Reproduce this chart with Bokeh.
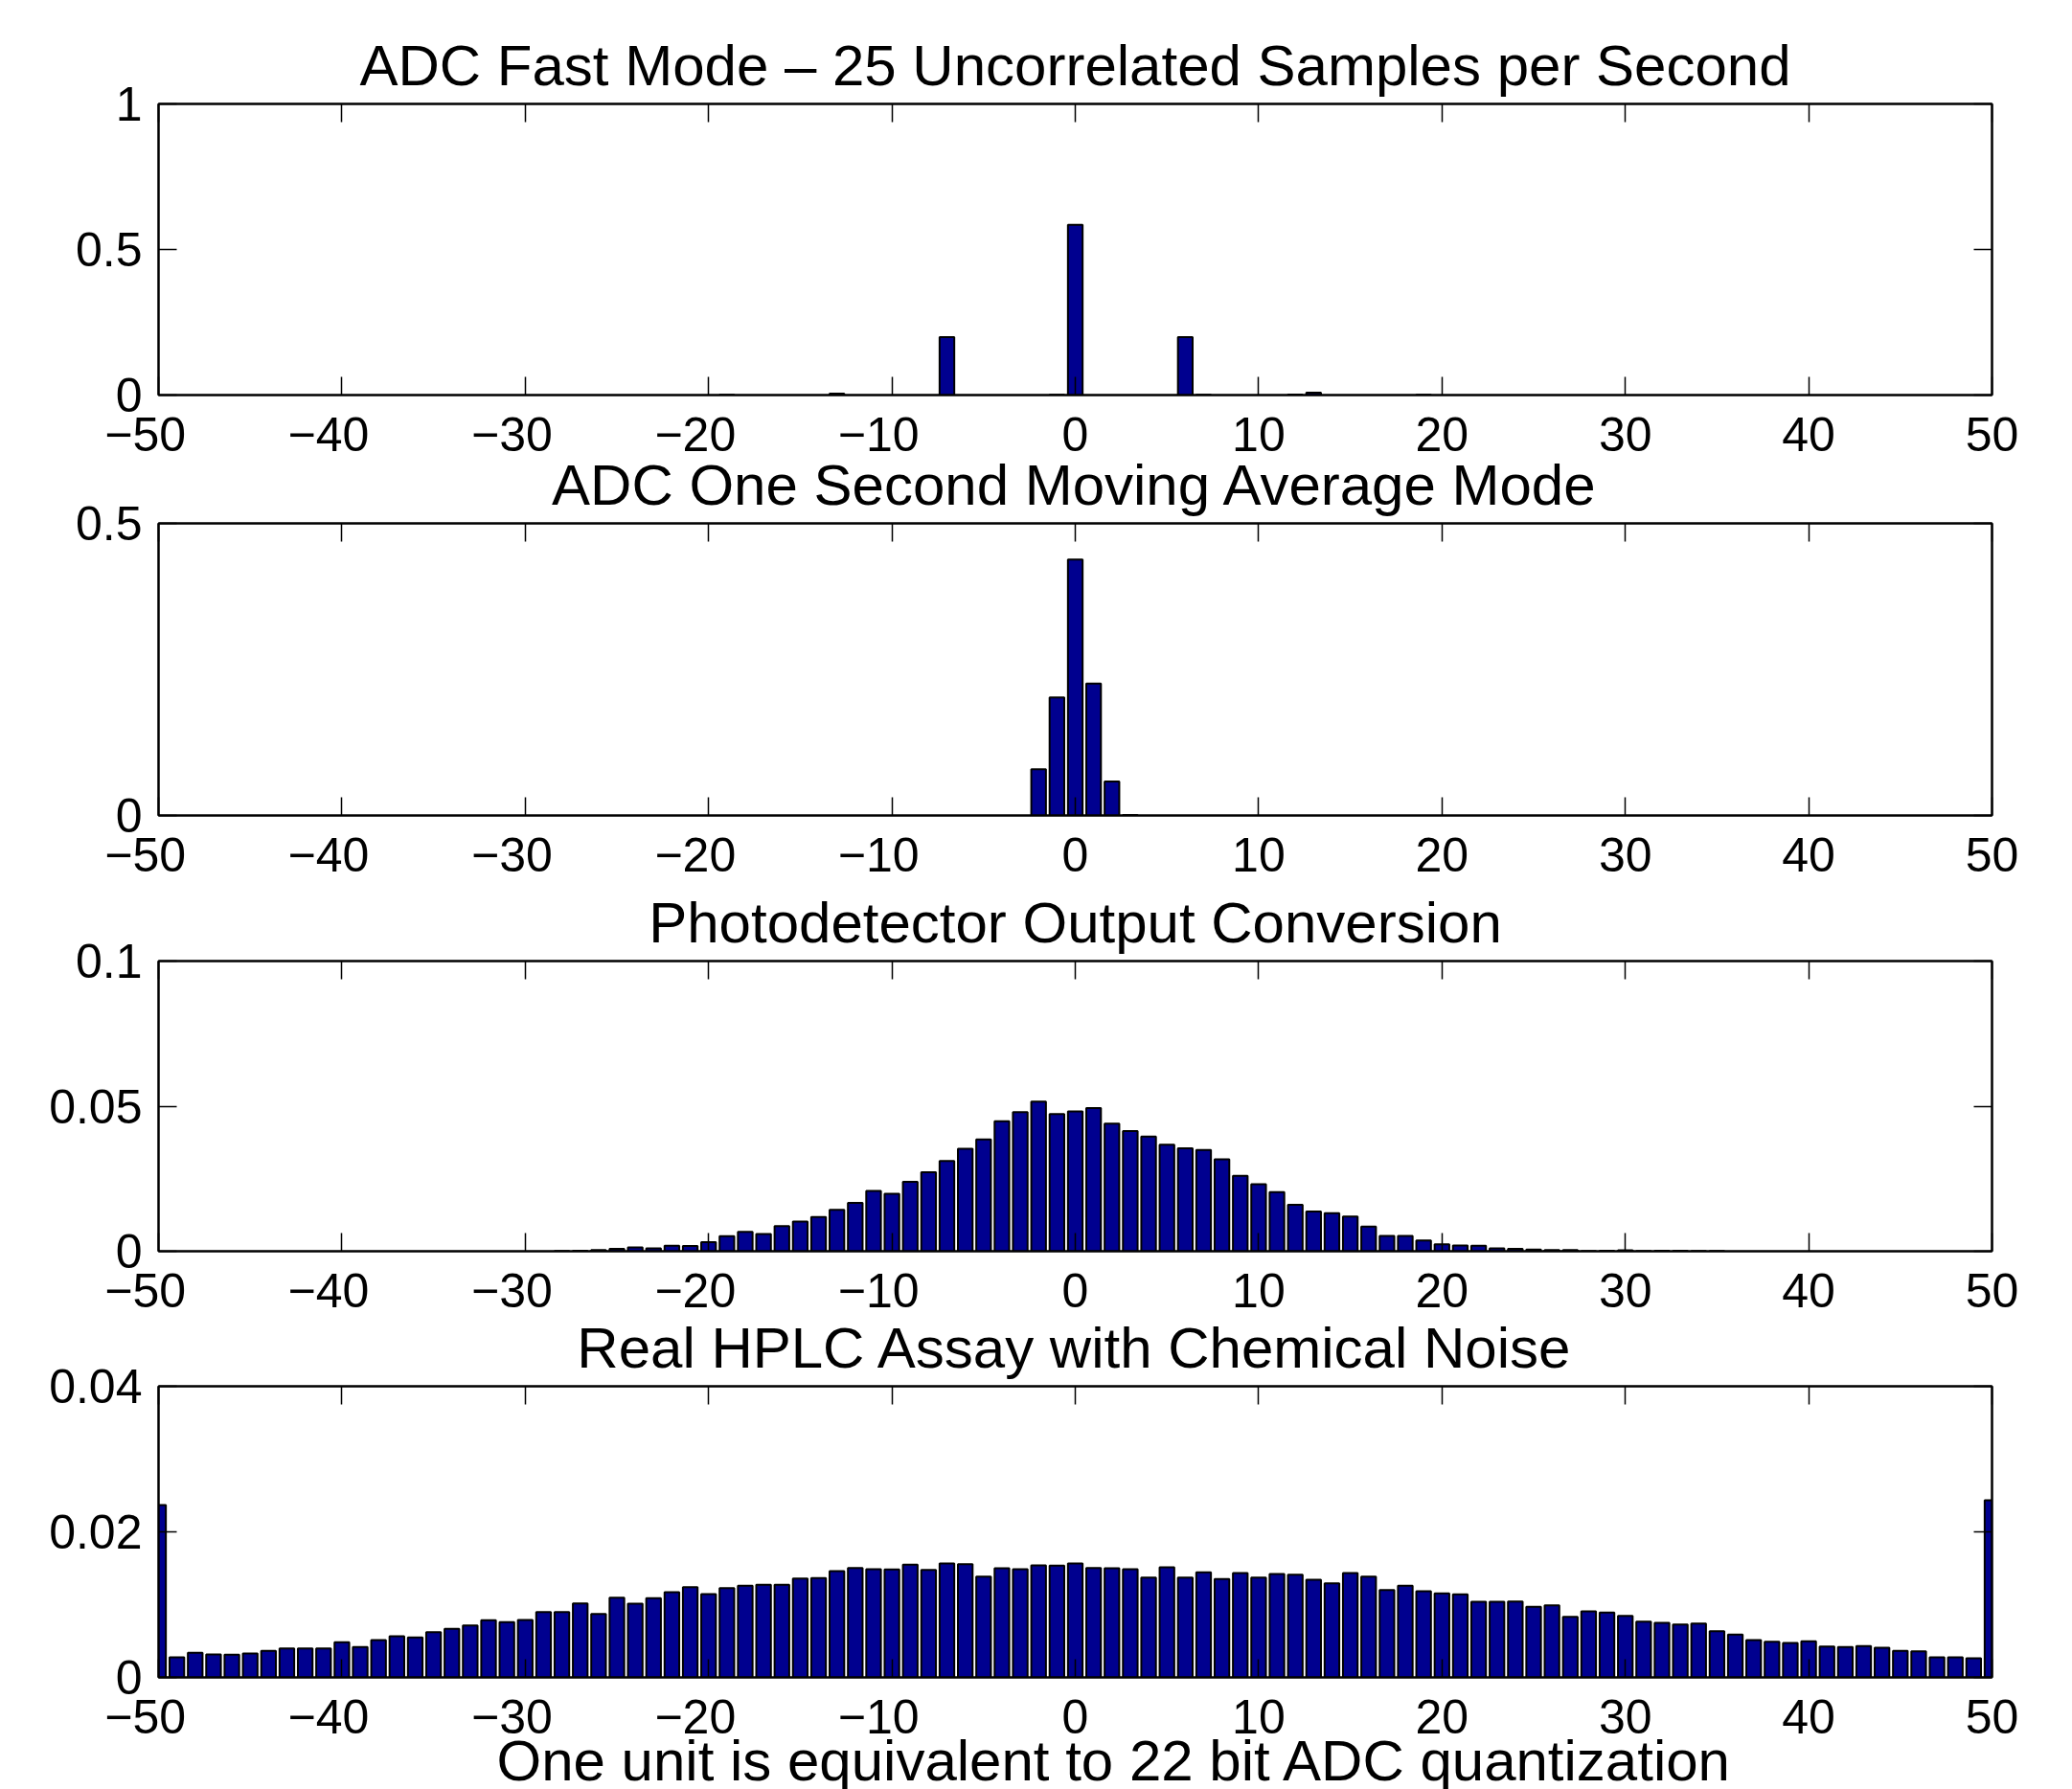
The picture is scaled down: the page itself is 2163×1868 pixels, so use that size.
from bokeh.plotting import figure
from bokeh.models import Range1d, FixedTicker, LinearAxis, Title
from bokeh.layouts import column
from bokeh.embed import file_html
from bokeh.resources import INLINE

# ---------------- data ----------------
x_ticks = [-50, -40, -30, -20, -10, 0, 10, 20, 30, 40, 50]
# negative labels: the number is centred on the tick, the minus hangs to the left
# (two trailing no-break spaces balance the width of the minus sign)
NB = "\u00a0\u00a0"
x_tick_labels = ["\u221250" + NB, "\u221240" + NB, "\u221230" + NB, "\u221220" + NB,
                 "\u221210" + NB, "0", "10", "20", "30", "40", "50"]

titles = [
    "ADC Fast Mode \u2013 25 Uncorrelated Samples per Second",
    "ADC One Second Moving Average Mode",
    "Photodetector Output Conversion",
    "Real HPLC Assay with Chemical Noise",
]
x_label = "One unit is equivalent to 22 bit ADC quantization"

# panel 1: ADC fast mode
fast_x = [-19, -13, -7, -1, 0, 6, 7, 12, 13, 19]
fast_y = [0.0005, 0.005, 0.199, 0.001, 0.585, 0.199, 0.001, 0.002, 0.008, 0.0005]
fast_yticks = [0, 0.5, 1]
fast_ylabels = ["0", "0.5", "1"]

# panel 2: moving average mode
avg_x = [-2, -1, 0, 1, 2, 3]
avg_y = [0.079, 0.202, 0.438, 0.226, 0.058, 0.001]
avg_yticks = [0, 0.5]
avg_ylabels = ["0", "0.5"]

# panel 3: photodetector output conversion (bins -28 .. 35)
photo_x = list(range(-28, 36))
photo_y = [0.0001, 0.0002, 0.0004, 0.0008, 0.0013, 0.0010, 0.0019, 0.0018,
           0.0031, 0.0052, 0.0067, 0.0059, 0.0087, 0.0102, 0.0118, 0.0143,
           0.0167, 0.0208, 0.0198, 0.0239, 0.0272, 0.0311, 0.0353, 0.0385,
           0.0448, 0.0479, 0.0516, 0.0473, 0.0482, 0.0493, 0.0440, 0.0414,
           0.0395, 0.0367, 0.0355, 0.0349, 0.0317, 0.0260, 0.0231, 0.0204,
           0.0160, 0.0137, 0.0131, 0.0120, 0.0085, 0.0053, 0.0053, 0.0037,
           0.0024, 0.0020, 0.0019, 0.0010, 0.0008, 0.0006, 0.0004, 0.0004,
           0.0001, 0.0002, 0.0003, 0.0001, 0.0002, 0.0002, 0.0001, 0.0001]
photo_yticks = [0, 0.05, 0.1]
photo_ylabels = ["0", "0.05", "0.1"]

# panel 4: real HPLC assay (bins -50 .. 50)
hplc_x = list(range(-50, 51))
hplc_y = [0.0237, 0.00276, 0.00338, 0.00316, 0.00311, 0.00329, 0.00364, 0.00399,
          0.00399, 0.00399, 0.00482, 0.00417, 0.00513, 0.00566, 0.00548, 0.00623,
          0.00667, 0.00715, 0.00785, 0.00759, 0.00789, 0.00899, 0.00899, 0.01018,
          0.00873, 0.01096, 0.01013, 0.01088, 0.01171, 0.01241, 0.01145, 0.01228,
          0.01259, 0.01272, 0.01272, 0.01360, 0.01364, 0.01461, 0.01504, 0.01487,
          0.01482, 0.01548, 0.01478, 0.01566, 0.01557, 0.01386, 0.01500, 0.01487,
          0.01540, 0.01535, 0.01566, 0.01504, 0.01500, 0.01487, 0.01373, 0.01513,
          0.01373, 0.01443, 0.01351, 0.01434, 0.01373, 0.01421, 0.01412, 0.01342,
          0.01294, 0.01434, 0.01386, 0.01202, 0.01259, 0.01184, 0.01154, 0.01140,
          0.01040, 0.01040, 0.01044, 0.00969, 0.00991, 0.00833, 0.00908, 0.00890,
          0.00846, 0.00768, 0.00750, 0.00728, 0.00741, 0.00636, 0.00588, 0.00513,
          0.00491, 0.00474, 0.00496, 0.00425, 0.00417, 0.00430, 0.00408, 0.00364,
          0.00360, 0.00276, 0.00276, 0.00263, 0.02434]
hplc_yticks = [0, 0.02, 0.04]
hplc_ylabels = ["0", "0.02", "0.04"]

# ---------------- style ----------------
FONT = "Liberation Sans"
BAR = "#00008F"
W = 2163


def style_axis(ax, ticks, labels, show):
    ax.ticker = FixedTicker(ticks=ticks)
    ax.major_tick_in = 19
    ax.major_tick_out = 0
    ax.minor_tick_in = 0
    ax.minor_tick_out = 0
    ax.axis_line_color = "black"
    ax.axis_line_width = 2
    ax.major_tick_line_color = "black"
    ax.major_tick_line_width = 1.5
    ax.major_label_text_font = FONT
    if show:
        ax.major_label_overrides = {t: s for t, s in zip(ticks, labels)}
        ax.major_label_text_color = "black"
        ax.major_label_text_font_size = "50px"
    else:
        ax.major_label_text_color = None
        ax.major_label_text_font_size = "0px"
        ax.major_label_standoff = 0


def make_panel(h, top, bottom, left, right, ymax, yticks, ylabels, xs, ys, title, shift):
    p = figure(width=W, height=h, x_range=Range1d(-50, 50), y_range=Range1d(0, ymax),
               output_backend="svg", toolbar_location=None,
               min_border_top=top, min_border_bottom=bottom,
               min_border_left=left, min_border_right=right,
               margin=(shift, 0, 0, 0))
    p.background_fill_color = "white"
    p.border_fill_alpha = 0
    p.outline_line_color = "black"
    p.outline_line_width = 2
    p.xgrid.visible = False
    p.ygrid.visible = False
    style_axis(p.xaxis[0], x_ticks, x_tick_labels, True)
    p.xaxis[0].major_label_standoff = 13
    style_axis(p.yaxis[0], yticks, ylabels, True)
    p.yaxis[0].major_label_standoff = 17
    top_ax = LinearAxis()
    style_axis(top_ax, x_ticks, x_tick_labels, False)
    p.add_layout(top_ax, "above")
    right_ax = LinearAxis()
    style_axis(right_ax, yticks, ylabels, False)
    p.add_layout(right_ax, "right")
    p.vbar(x=xs, top=ys, bottom=0, width=0.8, fill_color=BAR,
           line_color="black", line_width=2)
    p.title.text = title
    p.title.align = "center"
    p.title.vertical_align = "bottom"
    p.title.text_font = FONT
    p.title.text_font_size = "60px"
    p.title.text_font_style = "normal"
    p.title.text_color = "black"
    p.title.standoff = 14
    return p


p1 = make_panel(488, 108, 76, 161, 84, 1, fast_yticks, fast_ylabels, fast_x, fast_y, titles[0], 0)
p2 = make_panel(469, 88, 76, 161, 84, 0.5, avg_yticks, avg_ylabels, avg_x, avg_y, titles[1], -30)
p3 = make_panel(467, 88, 76, 161, 84, 0.1, photo_yticks, photo_ylabels, photo_x, photo_y, titles[2], -12)
p4 = make_panel(509, 88, 117, 165, 81, 0.04, hplc_yticks, hplc_ylabels, hplc_x, hplc_y, titles[3], -23)
p4.add_layout(Title(text=x_label, align="left", offset=353, standoff=-42,
                    vertical_align="bottom",
                    text_font=FONT, text_font_size="60px", text_font_style="normal",
                    text_color="black"), "below")

layout = column(p1, p2, p3, p4, spacing=0)
open("out.html", "w").write(file_html(layout, INLINE))
